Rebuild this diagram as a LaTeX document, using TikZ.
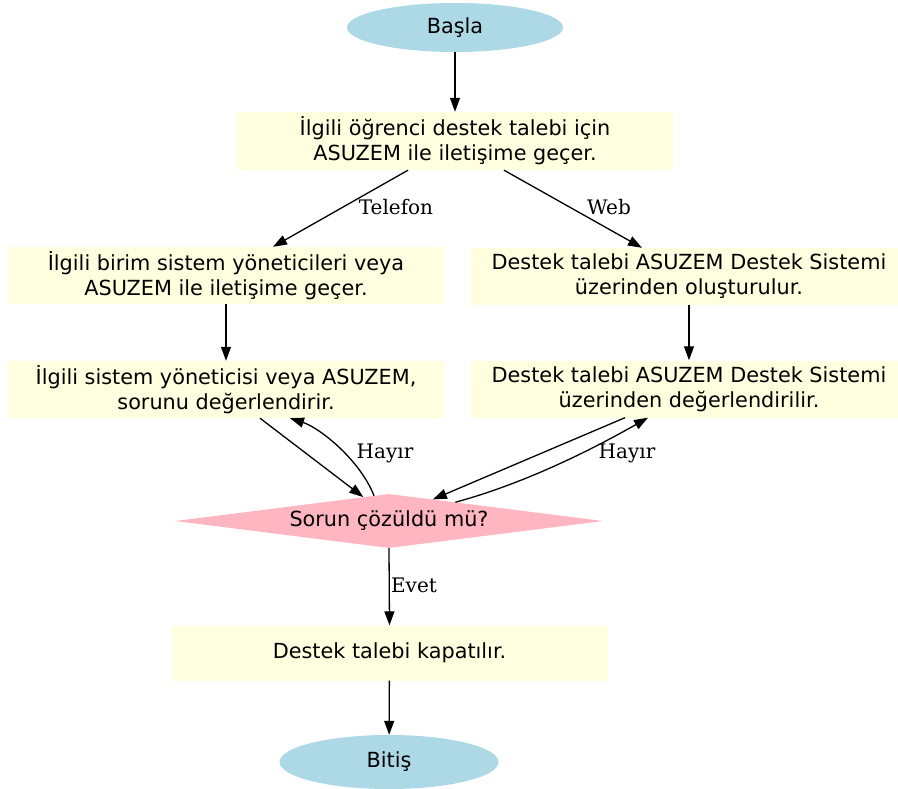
\documentclass[tikz,border=0pt]{standalone}
\usepackage{fontspec}
\setmainfont{DejaVu Sans}
\newfontfamily\lblfont{DejaVu Serif}
\usetikzlibrary{shapes.geometric,arrows.meta,calc}
\definecolor{boxfill}{RGB}{255,255,224}
\definecolor{ellfill}{RGB}{173,216,230}
\definecolor{diafill}{RGB}{255,182,193}
\tikzset{
  stepbox/.style={rectangle,fill=boxfill,draw=none,inner sep=0pt,minimum width=436pt,align=center,font=\fontsize{20.8}{25}\selectfont},
  terminal/.style={ellipse,fill=ellfill,draw=none,inner sep=0pt,font=\fontsize{20.8}{25}\selectfont},
  decision/.style={diamond,fill=diafill,draw=none,inner sep=0pt,aspect=7.9,minimum width=428pt,minimum height=54pt,font=\fontsize{20.8}{25}\selectfont},
  conn/.style={-{Triangle[length=14pt,width=10pt]},line width=1.3pt,black},
  lbl/.style={font=\lblfont\fontsize{20}{24}\selectfont,inner sep=0pt}
}
\begin{document}
\begin{tikzpicture}[x=1pt,y=-1pt]
\useasboundingbox (0,0) rectangle (898,789);
\clip (0,0) rectangle (898,789);
\fill[white] (0,0) rectangle (898,789);
\node[terminal,minimum width=216pt,minimum height=49pt] (start) at (455,27.5) {Başla};
\node[stepbox,minimum height=58pt] (b1) at (455,141) {İlgili öğrenci destek talebi için\\ASUZEM ile iletişime geçer.};
\node[stepbox,minimum height=57pt] (b2) at (226,275.5) {İlgili birim sistem yöneticileri veya\\ASUZEM ile iletişime geçer.};
\node[stepbox,minimum height=57pt] (b3) at (689,276.5) {Destek talebi ASUZEM Destek Sistemi\\üzerinden oluşturulur.};
\node[stepbox,minimum height=57pt] (b4) at (226,389.5) {İlgili sistem yöneticisi veya ASUZEM,\\sorunu değerlendirir.};
\node[stepbox,minimum height=57pt] (b5) at (689,389) {Destek talebi ASUZEM Destek Sistemi\\üzerinden değerlendirilir.};
\node[decision] (d) at (389,521) {Sorun çözüldü mü?};
\node[stepbox,minimum height=55pt] (b6) at (389.5,653) {Destek talebi kapatılır.};
\node[terminal,minimum width=219pt,minimum height=54pt] (end) at (389,762) {Bitiş};

\draw[conn] (start) -- (b1);
\draw[conn] ([xshift=-47pt]b1.south) -- ([xshift=47pt]b2.north) node[lbl] at (396,207) {Telefon};
\draw[conn] ([xshift=49pt]b1.south) -- ([xshift=-47pt]b3.north) node[lbl] at (609,207) {Web};
\draw[conn] (b2) -- (b4);
\draw[conn] (b3) -- (b5);
\draw[conn] ([xshift=34pt]b4.south) -- ($(d.north)!0.12!(d.west)$);
\draw[conn] ($(d.north)!0.07!(d.west)$) .. controls (360,460) and (320,428) .. ([xshift=64pt]b4.south) node[lbl] at (385,453) {Hayır};
\draw[conn] ([xshift=-64pt]b5.south) -- ($(d.north)!0.205!(d.east)$);
\draw[conn] ($(d.north)!0.31!(d.east)$) .. controls (530,482) and (600,445) .. ([xshift=-41pt]b5.south) node[lbl] at (627,453) {Hayır};
\draw[conn] (d.south) -- (b6.north) node[lbl] at (414,585) {Evet};
\draw[conn] (b6) -- (end);
\end{tikzpicture}
\end{document}
